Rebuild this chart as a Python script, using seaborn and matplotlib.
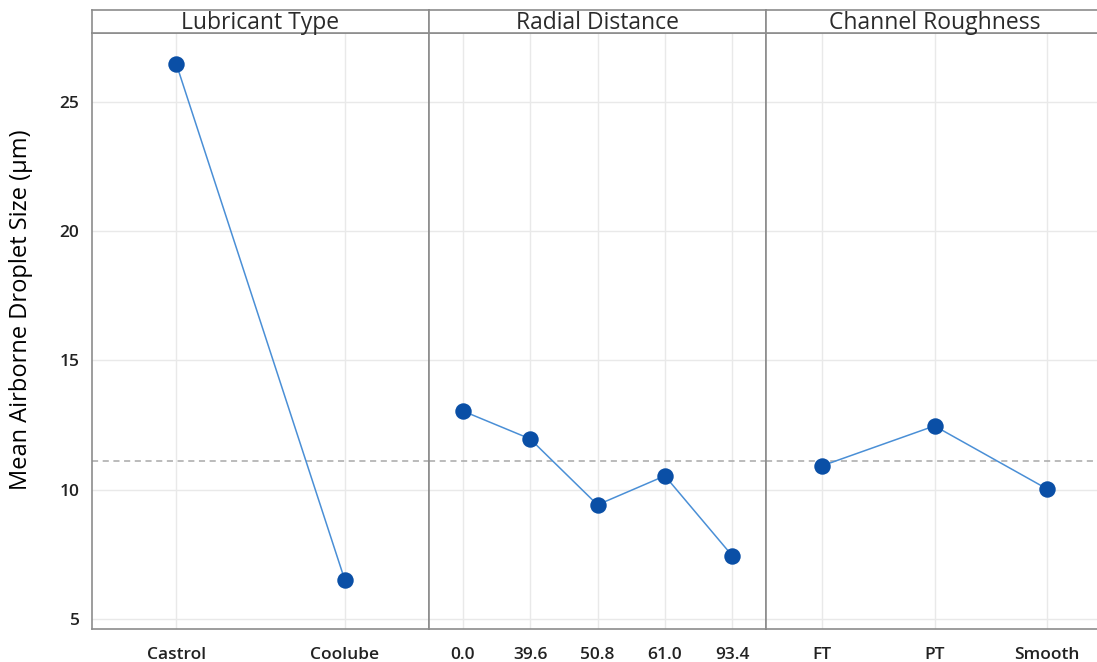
import matplotlib
matplotlib.use("Agg")
import matplotlib.pyplot as plt
import seaborn as sns

# %% data
lubricant = ["Castrol", "Coolube"]
lubricant_means = [26.47, 6.52]

radial = ["0.0", "39.6", "50.8", "61.0", "93.4"]
radial_means = [13.05, 11.97, 9.42, 10.54, 7.45]

roughness = ["FT", "PT", "Smooth"]
roughness_means = [10.93, 12.47, 10.04]

panel_titles = ["Lubricant Type", "Radial Distance", "Channel Roughness"]
grand_mean = 11.12
y_ticks = [5, 10, 15, 20, 25]

# %%
sns.set_style("white")
plt.rcParams["font.family"] = ["Open Sans", "DejaVu Sans"]

W, H = 1097, 662
fig = plt.figure(figsize=(W / 100, H / 100), dpi=100)

line_col = "#4a8fd6"
mark_col = "#0a4fa6"
frame_col = "#8c8c8c"
grid_col = "#e9e9e9"

panels = [(lubricant, lubricant_means), (radial, radial_means), (roughness, roughness_means)]
left0, pw = 92, 337
top, bottom, head_top = 33, 629, 10

axes = []
for i, ((cats, vals), title) in enumerate(zip(panels, panel_titles)):
    x0 = left0 + i * pw
    ax = fig.add_axes([x0 / W, (H - bottom) / H, pw / W, (bottom - top) / H])
    pos = list(range(len(cats)))
    sns.lineplot(x=pos, y=vals, ax=ax, color=line_col, linewidth=1.1, zorder=3)
    sns.scatterplot(x=pos, y=vals, ax=ax, color=mark_col, s=140, edgecolor=mark_col,
                    linewidth=0, zorder=4)
    ax.axhline(grand_mean, color="#a8a8a8", linestyle=(0, (4, 3)), linewidth=1.1, zorder=2)
    ax.set_xlim(-0.5, len(cats) - 0.5)
    ax.set_ylim(4.62, 27.66)
    ax.set_xticks(pos)
    ax.set_xticklabels(cats, fontsize=12.5, fontweight="semibold", color="#222222")
    ax.set_yticks(y_ticks)
    for x in pos:
        ax.axvline(x, color=grid_col, linewidth=1, zorder=0)
    for y in y_ticks:
        ax.axhline(y, color=grid_col, linewidth=1, zorder=0)
    for sp in ax.spines.values():
        sp.set_color(frame_col)
        sp.set_linewidth(1.2)
    ax.tick_params(axis="x", length=5, color=frame_col, pad=8)
    if i == 0:
        ax.set_yticklabels([str(t) for t in y_ticks], fontsize=12.5,
                           fontweight="semibold", color="#222222")
        ax.tick_params(axis="y", length=5, color=frame_col, pad=4)
    else:
        ax.tick_params(axis="y", left=False, labelleft=False)
    ax.set_xlabel("")
    ax.set_ylabel("")
    axes.append(ax)

    hax = fig.add_axes([x0 / W, (H - top) / H, pw / W, (top - head_top) / H])
    hax.set_xticks([])
    hax.set_yticks([])
    for sp in hax.spines.values():
        sp.set_color(frame_col)
        sp.set_linewidth(1.2)
    hax.text(0.5, 0.45, title, ha="center", va="center", fontsize=16.5,
             color="#2b2b2b", transform=hax.transAxes)

fig.text(21 / W, (H - 310) / H, "Mean Airborne Droplet Size (µm)",
         rotation=90, ha="center", va="center", fontsize=17, color="#000000")

fig.savefig("out.png", dpi=100)
